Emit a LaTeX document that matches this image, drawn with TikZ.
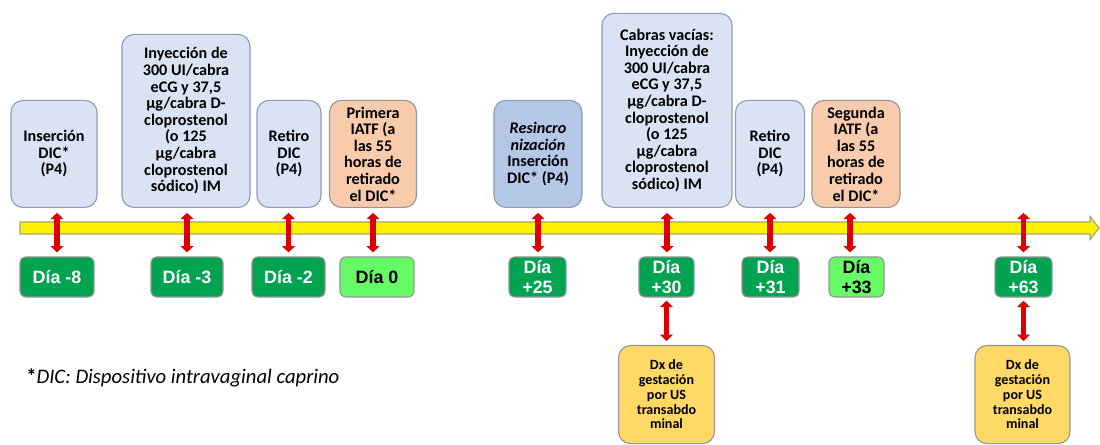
\documentclass[tikz,border=0pt]{standalone}
\usepackage{fontspec}
\setmainfont{Carlito}
\newfontfamily\arialfont{Liberation Sans}
\usetikzlibrary{arrows.meta}
\definecolor{cajaazul}{RGB}{218,227,243}
\definecolor{cajaazuloscura}{RGB}{180,199,231}
\definecolor{bordeazul}{RGB}{140,156,186}
\definecolor{cajanaranja}{RGB}{248,203,173}
\definecolor{verdeoscuro}{RGB}{0,163,80}
\definecolor{verdeclaro}{RGB}{102,250,102}
\definecolor{cajaoro}{RGB}{255,217,102}
\definecolor{bordegris}{RGB}{150,150,150}
\definecolor{bordelinea}{RGB}{165,165,110}
\definecolor{rojoflecha}{RGB}{222,0,0}
\begin{document}
\begin{tikzpicture}[x=0.025cm, y=-0.025cm,
    evento/.style={draw=bordeazul, fill=cajaazul, rounded corners=0.3cm, thick,
        anchor=south, inner sep=0pt, align=center, minimum height=2.675cm,
        font=\bfseries\fontsize{11.5}{11.8}\selectfont},
    iatf/.style={evento, fill=cajanaranja, draw=bordegris},
    dia/.style={fill=verdeoscuro, draw=bordegris, rounded corners=0.15cm, thick,
        text=white, inner sep=0pt, align=center, minimum height=1cm,
        font=\arialfont\bfseries\fontsize{12.7}{14}\selectfont},
    diaclaro/.style={dia, fill=verdeclaro, text=black},
    dx/.style={fill=cajaoro, draw=bordegris, rounded corners=0.3cm, thick,
        anchor=north, inner sep=0pt, align=center, minimum width=2.4cm,
        minimum height=2.45cm, font=\bfseries\fontsize{10}{10.5}\selectfont},
    flecha/.style={rojoflecha, line width=3.6pt,
        {Triangle[width=9pt,length=4.5pt]}-{Triangle[width=9pt,length=4.5pt]}}]
    \useasboundingbox (0,0) rectangle (1100,445);
    % linea de tiempo
    \draw[fill=yellow, draw=bordelinea, thick] (20,222) -- (1090,222) -- (1090,216.5)
        -- (1099,228) -- (1090,239.5) -- (1090,234) -- (20,234) -- cycle;
    % eventos arriba
    \node[evento, minimum width=2.15cm] (ins) at (54,208) {Inserción\\DIC*\\(P4)};
    \node[evento, minimum width=3.2cm, minimum height=4.325cm] (iny) at (186,208)
        {Inyección de\\300 UI/cabra\\eCG y 37,5\\µg/cabra D-\\cloprostenol\\(o 125\\µg/cabra\\cloprostenol\\sódico) IM};
    \node[evento, minimum width=1.6cm] (ret) at (289,208) {Retiro\\DIC\\(P4)};
    \node[iatf, minimum width=2.175cm] (pri) at (373,208)
        {Primera\\IATF (a\\las 55\\horas de\\retirado\\el DIC*};
    \node[evento, fill=cajaazuloscura, minimum width=2.2cm] (res) at (538,208)
        {\textit{Resincro}\\\textit{nización}\\Inserción\\DIC* (P4)};
    \node[evento, minimum width=3.25cm, minimum height=4.85cm] (vac) at (667,208)
        {Cabras vacías:\\Inyección de\\300 UI/cabra\\eCG y 37,5\\µg/cabra D-\\cloprostenol\\(o 125\\µg/cabra\\cloprostenol\\sódico) IM};
    \node[evento, minimum width=1.725cm] (ret2) at (770,208) {Retiro\\DIC\\(P4)};
    \node[iatf, minimum width=2.2cm] (seg) at (856,208)
        {Segunda\\IATF (a\\las 55\\horas de\\retirado\\el DIC*};
    % dias
    \node[dia, minimum width=1.85cm] (d-8) at (57,277) {Día -8};
    \node[dia, minimum width=1.8cm] (d-3) at (187,277) {Día -3};
    \node[dia, minimum width=1.825cm] (d-2) at (288.5,277) {Día -2};
    \node[diaclaro, minimum width=1.85cm] (d0) at (377,277) {Día 0};
    \node[dia, minimum width=1.425cm] (d25) at (537.5,277) {Día\\+25};
    \node[dia, minimum width=1.375cm] (d30) at (666.5,277) {Día\\+30};
    \node[dia, minimum width=1.425cm] (d31) at (770.5,277) {Día\\+31};
    \node[diaclaro, minimum width=1.375cm] (d33) at (856.5,277) {Día\\+33};
    \node[dia, minimum width=1.425cm] (d63) at (1023.5,277) {Día\\+63};
    \coordinate (t63) at (1023.5,208);
    % diagnosticos
    \node[dx] (dx30) at (666.5,345) {Dx de\\gestación\\por US\\transabdo\\minal};
    \node[dx, minimum width=2.375cm] (dx63) at (1022.5,345) {Dx de\\gestación\\por US\\transabdo\\minal};
    % flechas rojas
    \draw[flecha, shorten <=1.2mm, shorten >=1mm] (ins.south -| d-8.north) -- (d-8.north);
    \draw[flecha, shorten <=1.2mm, shorten >=1mm] (iny.south -| d-3.north) -- (d-3.north);
    \draw[flecha, shorten <=1.2mm, shorten >=1mm] (ret.south -| d-2.north) -- (d-2.north);
    \draw[flecha, shorten <=1.2mm, shorten >=1mm] (pri.south) -- (pri.south |- d0.north);
    \draw[flecha, shorten <=1.2mm, shorten >=1mm] (res.south) -- (res.south |- d25.north);
    \draw[flecha, shorten <=1.2mm, shorten >=1mm] (vac.south) -- (vac.south |- d30.north);
    \draw[flecha, shorten <=1.2mm, shorten >=1mm] (ret2.south) -- (ret2.south |- d31.north);
    \draw[flecha, shorten <=1.2mm, shorten >=1mm] (seg.south -| 850,0) -- (d33.north -| 850,0);
    \draw[flecha, shorten <=1.2mm, shorten >=1mm] (t63) -- (d63.north);
    \draw[flecha, shorten <=0.8mm, shorten >=1mm] (d30.south) -- (d30.south |- dx30.north);
    \draw[flecha, shorten <=0.8mm, shorten >=1mm] (d63.south) -- (d63.south |- dx63.north);
    % nota
    \node[anchor=west, inner sep=0pt, font=\fontsize{14.7}{16}\selectfont] (nota) at (26,378)
        {\textbf{*}\textit{DIC: Dispositivo intravaginal caprino}};
\end{tikzpicture}
\end{document}
